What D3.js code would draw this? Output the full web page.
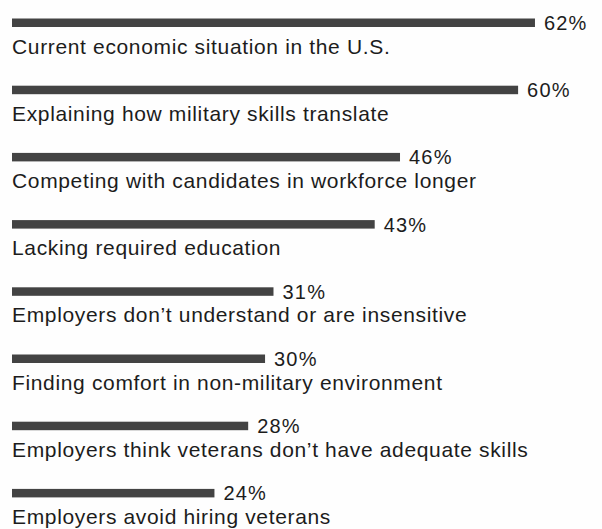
<!DOCTYPE html>
<html>
<head>
<meta charset="utf-8">
<script src="https://cdn.jsdelivr.net/npm/d3@7"></script>
<style>
  html, body { margin: 0; padding: 0; background: #fefefe; }
  svg { display: block; }
</style>
</head>
<body>
<svg id="chart" width="602" height="529"></svg>
<script>
const categories = [
  "Current economic situation in the U.S.",
  "Explaining how military skills translate",
  "Competing with candidates in workforce longer",
  "Lacking required education",
  "Employers don\u2019t understand or are insensitive",
  "Finding comfort in non-military environment",
  "Employers think veterans don\u2019t have adequate skills",
  "Employers avoid hiring veterans"
];
const values = [62, 60, 46, 43, 31, 30, 28, 24];
const valueLabels = ["62%", "60%", "46%", "43%", "31%", "30%", "28%", "24%"];

const data = categories.map((c, i) => ({ cat: c, value: values[i], label: valueLabels[i] }));

const svg = d3.select("#chart");

const x = d3.scaleLinear().domain([0, 100]).range([12, 12 + 843.5]);
const y = d3.scaleBand().domain(categories).range([18.5, 18.5 + 8 * 67.2]).paddingInner(0).paddingOuter(0);

const barH = 8.5;

const row = svg.append("g").selectAll("g.row").data(data).join("g")
  .attr("class", "row")
  .attr("transform", d => `translate(0,${y(d.cat)})`);

row.append("rect")
  .attr("x", x(0))
  .attr("y", 0)
  .attr("width", d => x(d.value) - x(0))
  .attr("height", barH)
  .attr("fill", "#434343");

row.append("text")
  .attr("x", d => x(d.value) + 9)
  .attr("y", 11.5)
  .attr("font-family", "'Liberation Sans', Arial, sans-serif")
  .attr("font-size", 20)
  .attr("letter-spacing", 1.2)
  .attr("fill", "#1c1c1c")
  .text(d => d.label);

row.append("text")
  .attr("x", x(0))
  .attr("y", 35)
  .attr("font-family", "'Liberation Sans', Arial, sans-serif")
  .attr("font-size", 21)
  .attr("letter-spacing", 0.65)
  .attr("fill", "#1c1c1c")
  .text(d => d.cat);
</script>
</body>
</html>
